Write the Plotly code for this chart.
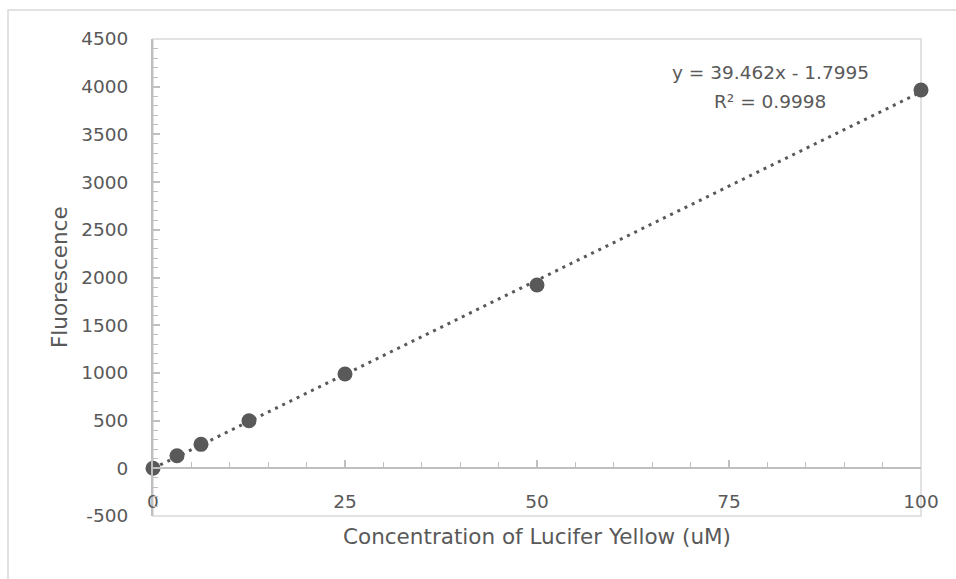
import plotly.graph_objects as go

# Data
concentration = [0, 3.125, 6.25, 12.5, 25, 50, 100]
fluorescence = [0, 132, 251, 499, 988, 1921, 3965]

# Trendline as labelled on the chart
slope = 39.462
intercept = -1.7995
r_squared = 0.9998
trend_x = [0, 100]
trend_y = [slope * v + intercept for v in trend_x]

x_ticks = [0, 25, 50, 75, 100]
y_ticks = [-500, 0, 500, 1000, 1500, 2000, 2500, 3000, 3500, 4000, 4500]

TXT = "#595959"
FONT = "DejaVu Sans"
TICK_SIZE = 18.5
TITLE_SIZE = 21.5

fig = go.Figure()
fig.add_trace(go.Scatter(
    x=trend_x, y=trend_y, mode="lines",
    line=dict(color=TXT, width=3, dash="3px,5px"),
    hoverinfo="skip", showlegend=False))
fig.add_trace(go.Scatter(
    x=concentration, y=fluorescence, mode="markers",
    marker=dict(color=TXT, size=15, line=dict(width=0)),
    cliponaxis=False,
    showlegend=False))

fig.update_layout(
    width=956, height=579,
    margin=dict(l=153, r=35, t=39, b=63),
    paper_bgcolor="white", plot_bgcolor="white",
    font=dict(family=FONT, color=TXT, size=TICK_SIZE),
    xaxis=dict(
        range=[0, 100], tickvals=x_ticks, ticktext=[str(v) for v in x_ticks],
        showgrid=False, zeroline=False, showline=True, linecolor="#bfbfbf", linewidth=2,
        anchor="free", position=0.1,
        ticks="inside", ticklen=7, tickwidth=2, tickcolor="#bfbfbf",
        minor=dict(dtick=5, tick0=0, ticks="inside", ticklen=5, tickwidth=1, tickcolor="#bfbfbf"),
        ticklabelstandoff=16,
        tickfont=dict(family=FONT, size=TICK_SIZE, color=TXT)),
    yaxis=dict(
        range=[-500, 4500], tickvals=y_ticks, ticktext=[str(v) for v in y_ticks],
        showgrid=False, zeroline=False, showline=True, linecolor="#bfbfbf", linewidth=2,
        ticks="inside", ticklen=7, tickwidth=2, tickcolor="#bfbfbf",
        minor=dict(dtick=100, tick0=0, ticks="inside", ticklen=5, tickwidth=1, tickcolor="#bfbfbf"),
        ticklabelstandoff=19,
        tickfont=dict(family=FONT, size=TICK_SIZE, color=TXT)),
    shapes=[
        dict(type="rect", xref="paper", yref="paper", x0=0, x1=1, y0=0, y1=1,
             line=dict(color="#d9d9d9", width=1.5), layer="below"),
        dict(type="rect", xref="paper", yref="paper", x0=-0.1888, x1=2, y0=-1, y1=1.0608,
             line=dict(color="#d9d9d9", width=1.5), layer="below"),
    ],
    annotations=[
        dict(text="Concentration of Lucifer Yellow (uM)", xref="paper", yref="paper",
             x=0.5, y=-0.044, showarrow=False, xanchor="center", yanchor="middle",
             font=dict(family=FONT, size=TITLE_SIZE, color=TXT)),
        dict(text="Fluorescence", xref="paper", yref="paper",
             x=-0.1224, y=0.501, textangle=-90, showarrow=False,
             xanchor="center", yanchor="middle",
             font=dict(family=FONT, size=TITLE_SIZE, color=TXT)),
        dict(text=f"y = {slope}x - {abs(intercept)}", xref="paper", yref="paper",
             x=0.8034, y=0.9308, showarrow=False, xanchor="center", yanchor="middle",
             font=dict(family=FONT, size=TICK_SIZE, color=TXT)),
        dict(text=f"R² = {r_squared}", xref="paper", yref="paper",
             x=0.8034, y=0.868, showarrow=False, xanchor="center", yanchor="middle",
             font=dict(family=FONT, size=TICK_SIZE, color=TXT)),
    ],
)

fig.write_html("out.html")
